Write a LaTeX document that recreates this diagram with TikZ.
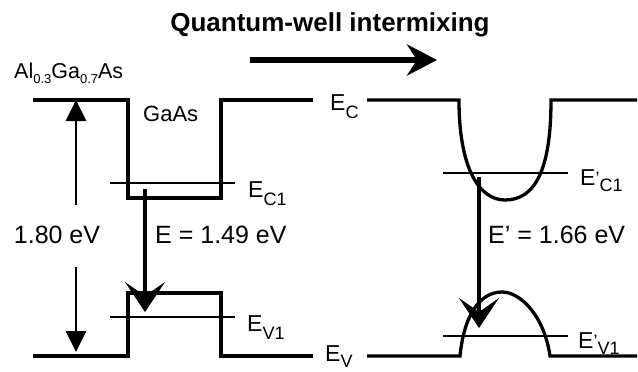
\documentclass[tikz,border=0pt]{standalone}
\usepackage{fontspec}
\setmainfont{Liberation Sans}
\usetikzlibrary{arrows.meta}
\newcommand\lsub[1]{\raisebox{-8pt}{\fontsize{18}{20}\selectfont #1}}
\newcommand\psub[1]{\raisebox{-6pt}{\fontsize{18}{20}\selectfont #1}}
\newcommand\asub[1]{\raisebox{-5pt}{\fontsize{13}{15}\selectfont #1}}
\newcommand\prm{\raisebox{1pt}{\fontsize{18}{20}\selectfont\textquoteright}}
\begin{document}
\begin{tikzpicture}[x=1pt,y=-1pt,
  band/.style={line width=3.3pt, line join=miter},
  level/.style={line width=2.1pt},
  lbl/.style={anchor=base west, inner sep=0pt, font=\fontsize{23}{27}\selectfont},
  txt/.style={anchor=base west, inner sep=0pt, font=\fontsize{25}{29}\selectfont},
  trans/.style={line width=3.4pt, -{Stealth[length=30pt,width=40pt,inset=14pt]}},
  gaparrow/.style={line width=2.8pt, -{Triangle[length=21pt,width=20pt]}},
  bigarrow/.style={line width=6.5pt, -{Stealth[length=30pt,width=31pt,inset=10pt]}},
]
\useasboundingbox (0,0) rectangle (638,372);

% title
\node[anchor=base, inner sep=0pt, font=\fontsize{26}{30}\selectfont\bfseries] (title) at (330,31) {Quantum-well intermixing};
\coordinate (qa) at (250,60);
\coordinate (qb) at (437,60);
\draw[bigarrow] (qa) -- (qb);

% ---- left: square well ----
\draw[band] (33,100) -- (128,100) -- (128,198) -- (221,198) -- (221,100) -- (313,100);
\draw[band] (33,356) -- (128,356) -- (128,293) -- (221,293) -- (221,356) -- (313,356);
\draw[level] (110,183) -- (235,183);
\draw[level] (110,317) -- (235,317);

\node[anchor=base west, inner sep=0pt, font=\fontsize{21.5}{25}\selectfont] (alga) at (14,78) {Al\asub{0.3}Ga\asub{0.7}As};
\node[anchor=base west, inner sep=0pt, font=\fontsize{22}{26}\selectfont] (gaas) at (143,121) {GaAs};
\node[lbl] (ec1) at (248,197) {E\lsub{C1}};
\node[lbl] (ev1) at (247,331) {E\lsub{V1}};
\node[txt, anchor=base] (gap) at (57,243) {1.80 eV};
\node[txt] (e1) at (155,243) {E = 1.49 eV};

\coordinate (gu0) at (76,205);
\coordinate (gu1) at (76,100);
\coordinate (gd0) at (76,267);
\coordinate (gd1) at (76,352);
\draw[gaparrow] (gu0) -- (gu1);
\draw[gaparrow] (gd0) -- (gd1);

\coordinate (lc) at (145,189);
\coordinate (lv) at (145,312);
\draw[trans] (lc) -- (lv);

% ---- middle labels ----
\node[lbl] (ec) at (330,110) {E\lsub{C}};
\node[lbl] (ev) at (325,361) {E\psub{V}};

% ---- right: intermixed well ----
\draw[band] (367,100) -- (459,100)
  .. controls (459,170) and (480,200) .. (505,200)
  .. controls (535,200) and (551,170) .. (551,100) -- (637,100);
\draw[band] (367,356) -- (460,356)
  .. controls (464,315) and (480,292) .. (502,292)
  .. controls (520,292) and (544,315) .. (550,356) -- (637,356);
\draw[level] (443,173) -- (568,173);
\draw[level] (443,336) -- (568,336);

\node[lbl] (ec1p) at (580,185) {E\prm\psub{C1}};
\node[lbl] (ev1p) at (578,348) {E\prm\psub{V1}};
\node[txt] (e2) at (488,243) {E\textquoteright\ = 1.66 eV};

\coordinate (rc) at (479,177);
\coordinate (rv) at (479,328);
\draw[trans] (rc) -- (rv);
\end{tikzpicture}
\end{document}
